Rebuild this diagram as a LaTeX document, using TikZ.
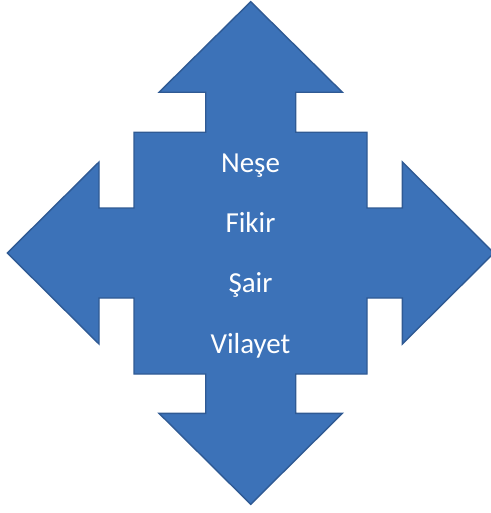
\documentclass[tikz,border=0pt]{standalone}
\usepackage{fontspec}
\setmainfont{Carlito}
\usetikzlibrary{positioning}
\definecolor{quadfill}{HTML}{3C72B8}
\definecolor{quadline}{HTML}{2F5A94}

\begin{document}
\begin{tikzpicture}[x=1pt, y=-1pt, line join=miter,
    word/.style={text=white, font=\fontsize{29}{29}\selectfont, inner sep=0pt,
        text height=20pt, text depth=7pt}]
            \useasboundingbox (0, 0) rectangle (490, 513);
            \draw[fill=quadfill, draw=quadline, line width=1.4pt]
                (250.7, 1.7) -- (342.4, 92.3) -- (295.7, 92.3) -- (295.7, 132.3)
                -- (367, 132.3) -- (367, 208) -- (402.3, 208) -- (402.3, 162)
                -- (494, 253) -- (402.3, 344) -- (402.3, 298) -- (367, 298)
                -- (367, 374) -- (295.7, 374) -- (295.7, 413.3) -- (342.4, 413.3)
                -- (250.7, 504.3) -- (159, 413.3) -- (205.7, 413.3) -- (205.7, 374)
                -- (134, 374) -- (134, 298) -- (99, 298) -- (99, 344)
                -- (7.3, 253) -- (99, 162) -- (99, 208) -- (134, 208)
                -- (134, 132.3) -- (205.7, 132.3) -- (205.7, 92.3) -- (159, 92.3) -- cycle;
            \node[word, anchor=base] (nese) at (250.5, 172) {Neşe};
            \node[word, below=33pt of nese] (fikir) {Fikir};
            \node[word, below=33pt of fikir] (sair) {Şair};
            \node[word, below=33pt of sair] (vilayet) {Vilayet};
        \end{tikzpicture}
\end{document}
